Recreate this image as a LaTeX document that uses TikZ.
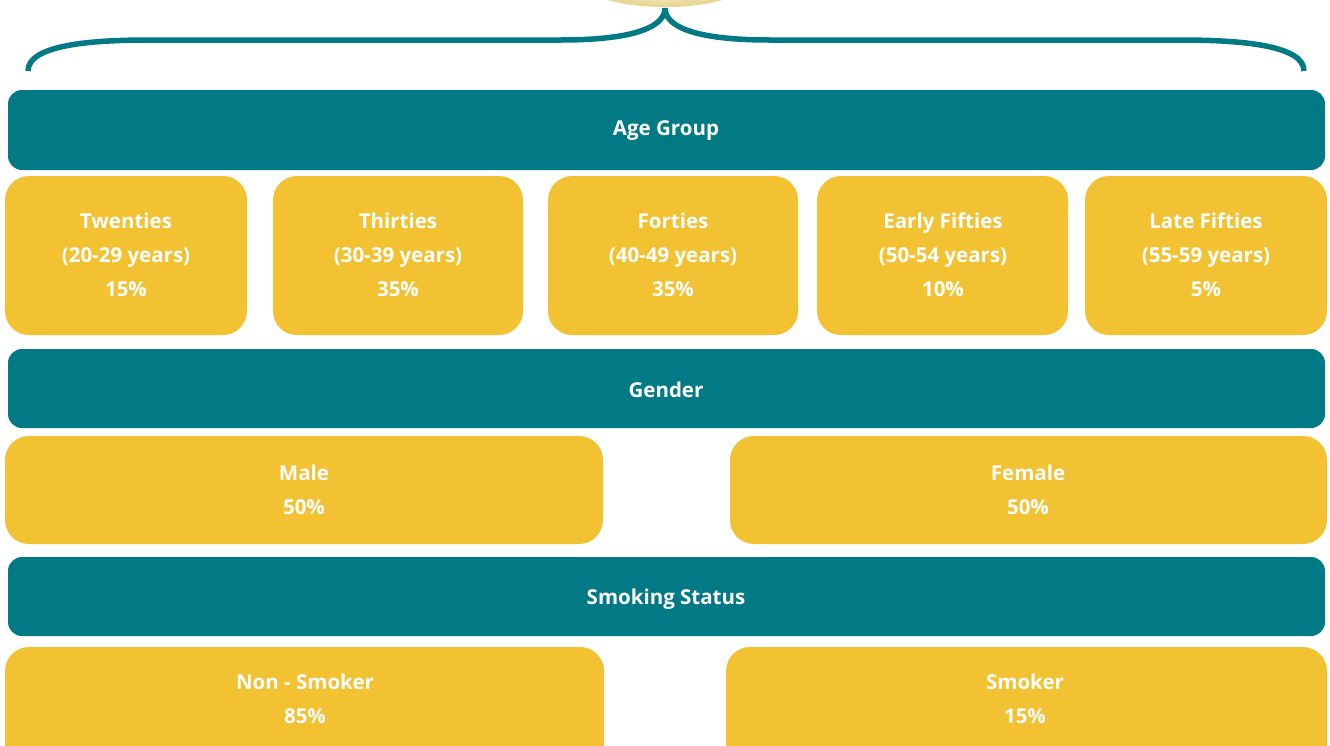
\documentclass[tikz,border=0pt]{standalone}
\usepackage{fontspec}
\setmainfont{Open Sans}
\usetikzlibrary{positioning}
\definecolor{teal1}{RGB}{1,122,133}
\definecolor{gold1}{RGB}{242,194,51}
\definecolor{pale}{RGB}{232,212,140}
\tikzset{
  bar/.style={fill=teal1, rounded corners=14pt},
  bartext/.style={text=white, font=\bfseries\fontsize{20.5}{34}\selectfont},
  cat/.style={fill=gold1, rounded corners=24pt},
  cattext/.style={text=white, align=center, font=\bfseries\fontsize{20.5}{34}\selectfont},
  brace/.style={draw=teal1, line width=5.5pt},
}
\begin{document}
\begin{tikzpicture}[x=1pt,y=-1pt]
\useasboundingbox (0,0) rectangle (1330,745);
% top ellipse
\begin{scope}
\clip (0,0) rectangle (1330,745);
\shade[inner color=white, outer color=pale] (665,-20) ellipse [x radius=85, y radius=27];
\end{scope}
% brace
\coordinate (bl) at (28,71);
\coordinate (bm) at (665,8);
\coordinate (br) at (1304,71);
\draw[brace] (bl) .. controls (28,45) and (90,40) .. (150,40) -- (560,40) .. controls (640,40) and (665,25) .. (bm);
\draw[brace] (br) .. controls (1304,45) and (1240,40) .. (1180,40) -- (770,40) .. controls (690,40) and (665,25) .. (bm);
% bars
\path[bar] (8,90) rectangle (1325,170);
\node[bartext] (age) at (666,131) {Age Group};
\path[bar] (8,349) rectangle (1325,428);
\node[bartext] (gender) at (666,390) {Gender};
\path[bar] (8,557) rectangle (1325,636);
\node[bartext] (smoke) at (666,599) {Smoking Status};
% age boxes
\path[cat] (5,176) rectangle (247,335);
\node[cattext] (a1) at (126,255) {Twenties\\(20-29 years)\\15\%};
\path[cat] (273,176) rectangle (523,335);
\node[cattext] (a2) at (398,255) {Thirties\\(30-39 years)\\35\%};
\path[cat] (548,176) rectangle (798,335);
\node[cattext] (a3) at (673,255) {Forties\\(40-49 years)\\35\%};
\path[cat] (817,176) rectangle (1068,335);
\node[cattext] (a4) at (943,255) {Early Fifties\\(50-54 years)\\10\%};
\path[cat] (1085,176) rectangle (1327,335);
\node[cattext] (a5) at (1206,255) {Late Fifties\\(55-59 years)\\5\%};
% gender
\path[cat] (5,436) rectangle (603,544);
\node[cattext] (g1) at (304,490) {Male\\50\%};
\path[cat] (730,436) rectangle (1327,544);
\node[cattext] (g2) at (1028,490) {Female\\50\%};
% smoking
\path[cat] (5,647) rectangle (604,775);
\node[cattext] (s1) at (305,699) {Non - Smoker\\85\%};
\path[cat] (726,647) rectangle (1327,775);
\node[cattext] (s2) at (1025,699) {Smoker\\15\%};
\end{tikzpicture}
\end{document}
